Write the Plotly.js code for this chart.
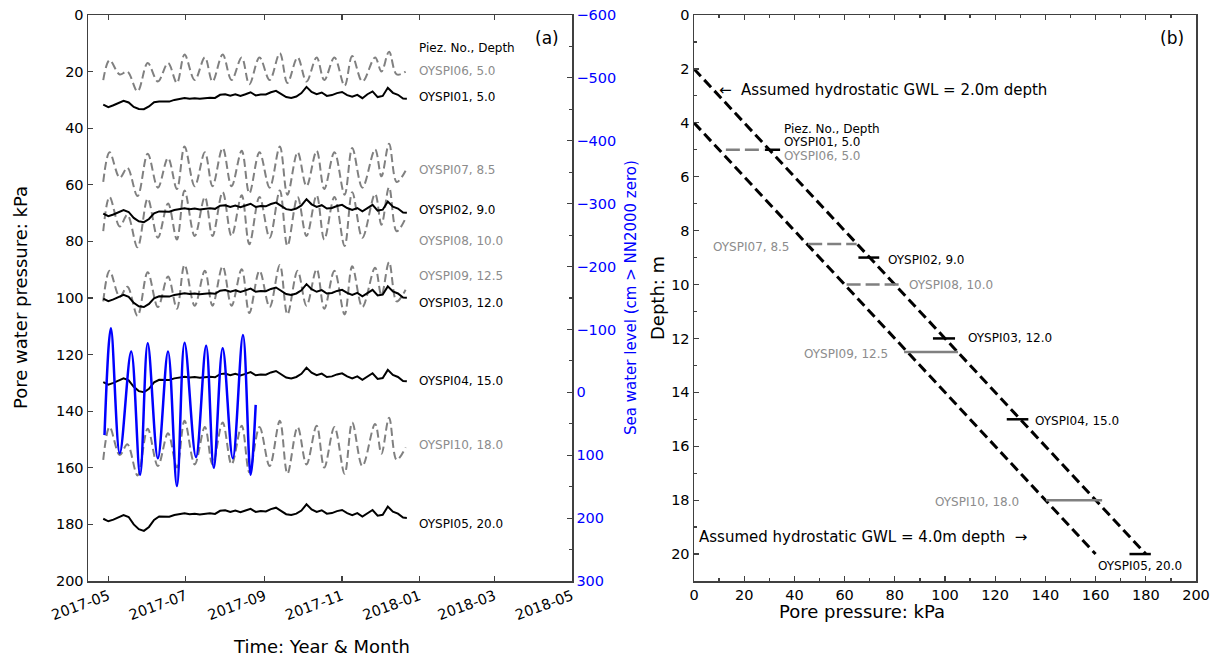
<!DOCTYPE html>
<html>
<head>
<meta charset="utf-8">
<script src="https://cdn.plot.ly/plotly-3.0.1.min.js"></script>
<style>body{margin:0;padding:0;background:#fff}#chart{width:1220px;height:660px}</style>
</head>
<body>
<div id="chart"></div>
<script>
// ---------- Panel (a): time series ----------
// dates of the turning points of the tidal-response (gray dashed) piezometers
const grayDates = ['2017-04-27','2017-05-02','2017-05-10','2017-05-16','2017-05-24','2017-06-01','2017-06-09','2017-06-17','2017-06-24','2017-06-30','2017-07-08','2017-07-16','2017-07-22','2017-07-30','2017-08-06','2017-08-14','2017-08-20','2017-08-28','2017-09-05','2017-09-13','2017-09-19','2017-09-27','2017-10-04','2017-10-12','2017-10-18','2017-10-26','2017-11-03','2017-11-09','2017-11-17','2017-11-27','2017-12-02','2017-12-08','2017-12-14','2017-12-21'];
const p06 = [23,16,21,20,27,17,23.5,17,24,14,23,15,23.5,14,23,15,24.5,15,23,13.5,24,15,23.5,15,23,15,25,14.5,23.5,15,20,13,21,20];
const p07 = [59,48.5,57.5,54,64,49,61,50.5,61.5,46.5,60.5,48.5,60.5,47,60.5,48,63,48.5,61,46.5,63.5,48.5,60.5,48,61.5,48.5,63.5,47,61,47.5,57,45.5,59,55];
const p08 = [76.4,64.3,74.7,70.6,82.1,64.9,78.7,66.6,79.3,62,78.1,64.3,78.1,62.6,78.1,63.7,81,64.3,78.7,62,81.6,64.3,78.1,63.7,79.3,64.3,81.6,62.6,78.7,63.2,74.1,60.9,76.4,71.8];
const p09 = [101.2,90.4,99.6,96,106.3,90.9,103.2,92.4,103.8,88.3,102.7,90.4,102.7,88.8,102.7,89.8,105.3,90.4,103.2,88.3,105.8,90.4,102.7,89.8,103.8,90.4,105.8,88.8,103.2,89.3,99.1,87.3,101.2,97.1];
const p10 = [157.2,145.6,155.5,151.7,162.7,146.2,159.4,147.8,159.9,143.4,158.8,145.6,158.8,144,158.8,145.1,161.6,145.6,159.4,143.4,162.1,145.6,158.8,145.1,159.9,145.6,162.1,144,159.4,144.5,155,142.3,157.2,152.8];

// black (non-tidal) piezometers, sampled every 4 days
const blackDates = ['2017-04-27','2017-05-01','2017-05-05','2017-05-09','2017-05-13','2017-05-17','2017-05-21','2017-05-25','2017-05-29','2017-06-02','2017-06-06','2017-06-10','2017-06-14','2017-06-18','2017-06-22','2017-06-26','2017-06-30','2017-07-04','2017-07-08','2017-07-12','2017-07-16','2017-07-20','2017-07-24','2017-07-28','2017-08-01','2017-08-05','2017-08-09','2017-08-13','2017-08-17','2017-08-21','2017-08-25','2017-08-29','2017-09-02','2017-09-06','2017-09-10','2017-09-14','2017-09-18','2017-09-22','2017-09-26','2017-09-30','2017-10-04','2017-10-08','2017-10-12','2017-10-16','2017-10-20','2017-10-24','2017-10-28','2017-11-01','2017-11-05','2017-11-09','2017-11-13','2017-11-17','2017-11-21','2017-11-25','2017-11-29','2017-12-03','2017-12-07','2017-12-11','2017-12-15','2017-12-19','2017-12-22'];
const p01 = [31.7,32.6,31.9,31.0,30.3,30.9,32.5,33.2,33.3,32.3,30.8,30.6,30.5,30.6,30.0,29.6,29.3,29.6,29.4,29.6,29.3,29.2,29.3,28.2,28.0,28.5,28.0,28.6,28.0,27.3,28.4,28.1,28.1,27.3,26.8,27.8,29.0,29.3,28.8,27.6,25.4,27.2,28.0,27.4,28.6,28.3,27.6,27.2,28.3,28.9,28.2,29.4,28.0,27.0,29.0,28.6,25.7,27.5,28.2,29.5,29.6];
const p02 = [70.2,71.1,70.5,69.6,68.9,69.6,71.7,72.9,73.2,72.1,70.1,69.4,69.4,69.5,68.9,68.6,68.3,68.6,68.4,68.7,68.4,68.3,68.5,67.4,67.2,67.8,67.3,67.9,67.3,66.7,67.8,67.5,67.6,66.8,66.3,67.4,68.6,68.9,68.4,67.3,65.1,66.9,67.8,67.2,68.4,68.2,67.5,67.1,68.2,68.9,68.2,69.4,68.1,67.1,69.1,68.8,65.9,67.7,68.4,69.8,69.9];
const p03 = [100.2,101.1,100.5,99.6,98.9,99.6,101.7,102.9,103.2,102.1,100.1,99.4,99.4,99.5,98.9,98.6,98.3,98.6,98.4,98.7,98.4,98.3,98.5,97.4,97.2,97.8,97.3,97.9,97.3,96.7,97.8,97.5,97.6,96.8,96.3,97.4,98.6,98.9,98.4,97.3,95.1,96.9,97.8,97.2,98.4,98.2,97.5,97.1,98.2,98.9,98.2,99.4,98.1,97.1,99.1,98.8,95.9,97.7,98.4,99.8,99.9];
const p04 = [129.7,130.6,130.0,129.1,128.4,129.1,131.4,132.9,133.3,132.1,129.8,128.9,128.9,129.0,128.4,128.1,127.8,128.1,127.9,128.2,127.9,127.8,128.0,126.9,126.7,127.3,126.8,127.4,126.8,126.2,127.3,127.0,127.1,126.3,125.8,126.9,128.1,128.4,127.9,126.8,124.6,126.4,127.3,126.7,127.9,127.7,127.0,126.6,127.7,128.4,127.7,128.9,127.6,126.6,128.6,128.3,125.4,127.2,127.9,129.3,129.4];
const p05 = [178.0,178.9,178.3,177.4,176.7,177.4,180.0,181.7,182.3,180.9,178.4,177.2,177.2,177.3,176.7,176.4,176.1,176.4,176.2,176.5,176.2,176.1,176.3,175.2,175.0,175.6,175.1,175.7,175.1,174.5,175.6,175.3,175.4,174.6,174.1,175.2,176.4,176.7,176.2,175.1,172.9,174.7,175.6,175.0,176.2,176.0,175.3,174.9,176.0,176.7,176.0,177.2,175.9,174.9,176.9,176.6,173.7,175.5,176.2,177.6,177.7];

// sea water level (cm > NN2000 zero), turning points
const seaDates = ['2017-04-28','2017-05-03','2017-05-10','2017-05-19','2017-05-26','2017-06-01','2017-06-09','2017-06-17','2017-06-24','2017-06-30','2017-07-09','2017-07-17','2017-07-23','2017-07-30','2017-08-07','2017-08-15','2017-08-21','2017-08-25'];
const seaLevel = [68,-102,97,-65,131,-78,105,-65,149,-79,103,-74,120,-70,105,-91,131,20];

// labels of panel (a)
const labelDate = '2017-12-30';
const labelTextsA = ['Piez. No., Depth','OYSPI06, 5.0','OYSPI01, 5.0','OYSPI07, 8.5','OYSPI02, 9.0','OYSPI08, 10.0','OYSPI09, 12.5','OYSPI03, 12.0','OYSPI04, 15.0','OYSPI10, 18.0','OYSPI05, 20.0'];
const labelPressA = [11.7,19.8,29.0,54.8,68.9,79.9,92.2,101.8,129.3,151.9,179.9];
const labelGrayA  = [false,true,false,true,false,true,true,false,false,true,false];

// ---------- Panel (b): pressure ranges vs depth ----------
const piezNames = ['OYSPI06','OYSPI07','OYSPI08','OYSPI09','OYSPI10','OYSPI01','OYSPI02','OYSPI03','OYSPI04','OYSPI05'];
const piezDepth = [5.0,8.5,10.0,12.5,18.0,5.0,9.0,12.0,15.0,20.0];
const piezMin   = [12.7,45.5,60.8,83.7,140.2,28.3,65.5,95.2,124.6,173.5];
const piezMax   = [28.0,64.8,82.7,105.2,162.6,34.3,73.8,104.0,133.2,182.0];
const piezGray  = [true,true,true,true,true,false,false,false,false,false];
const piezDashed= [true,true,true,false,false,false,false,false,false,false];

const gwlDepth2 = [2,20], gwlPress2 = [0,180];
const gwlDepth4 = [4,20], gwlPress4 = [0,160];

const labelTextsB = ['Piez. No., Depth','OYSPI01, 5.0','OYSPI06, 5.0','OYSPI07, 8.5','OYSPI02, 9.0','OYSPI08, 10.0','OYSPI03, 12.0','OYSPI09, 12.5','OYSPI04, 15.0','OYSPI10, 18.0','OYSPI05, 20.0'];
const labelPressB = [35.1,35.1,35.1,39.0,76.5,84.9,108.4,78.1,135.1,130.3,160.2];
const labelDepthB = [4.24,4.72,5.24,8.62,9.1,10.0,12.0,12.56,15.06,18.07,20.45];
const labelGrayB  = [false,false,true,true,false,true,false,true,false,true,false];
const labelRightB = [false,false,false,true,false,false,false,true,false,true,false];

// ---------- build ----------
const GRAY = '#808080', GRAYTXT = '#8c8c8c', FONT = 'DejaVu Sans';
const traces = [];
[p06,p07,p08,p09,p10].forEach(v => traces.push({
  x: grayDates, y: v, type:'scatter', mode:'lines', xaxis:'x', yaxis:'y',
  line:{color:GRAY, width:2, dash:'8px,4px', shape:'spline', smoothing:1}, hoverinfo:'skip'
}));
[p01,p02,p03,p04,p05].forEach(v => traces.push({
  x: blackDates, y: v, type:'scatter', mode:'lines', xaxis:'x', yaxis:'y',
  line:{color:'black', width:2}, hoverinfo:'skip'
}));
traces.push({x: seaDates, y: seaLevel, type:'scatter', mode:'lines', xaxis:'x', yaxis:'y2',
  line:{color:'#0000ff', width:2.5, shape:'spline', smoothing:1}, hoverinfo:'skip'});

traces.push({x: gwlPress2, y: gwlDepth2, type:'scatter', mode:'lines', xaxis:'x2', yaxis:'y3',
  line:{color:'black', width:3, dash:'10px,5px'}, hoverinfo:'skip'});
traces.push({x: gwlPress4, y: gwlDepth4, type:'scatter', mode:'lines', xaxis:'x2', yaxis:'y3',
  line:{color:'black', width:3, dash:'10px,5px'}, hoverinfo:'skip'});
piezNames.forEach((n,i) => traces.push({
  x: [piezMin[i], piezMax[i]], y: [piezDepth[i], piezDepth[i]], name: n,
  type:'scatter', mode:'lines', xaxis:'x2', yaxis:'y3',
  line:{color: piezGray[i] ? GRAY : 'black', width: 2.5, dash: piezDashed[i] ? '14px,5px' : 'solid'}, hoverinfo:'skip'
}));

const annotations = [];
labelTextsA.forEach((t,i) => annotations.push({
  x: labelDate, y: labelPressA[i], xref:'x', yref:'y', text: t, showarrow:false,
  xanchor:'left', yanchor:'middle', font:{family:FONT, size:12, color: labelGrayA[i] ? GRAYTXT : 'black'}
}));
labelTextsB.forEach((t,i) => annotations.push({
  x: labelPressB[i], y: labelDepthB[i], xref:'x2', yref:'y3', text: t, showarrow:false,
  xanchor: labelRightB[i] ? 'right' : 'left', yanchor:'middle',
  font:{family:FONT, size:12, color: labelGrayB[i] ? GRAYTXT : 'black'}
}));
annotations.push({x: 9.2, y: 2.79, xref:'x2', yref:'y3', text:'←  Assumed hydrostatic GWL = 2.0m depth', showarrow:false, xanchor:'left', yanchor:'middle', font:{family:FONT, size:15, color:'black'}});
annotations.push({x: 1.2, y: 19.37, xref:'x2', yref:'y3', text:'Assumed hydrostatic GWL = 4.0m depth  →', showarrow:false, xanchor:'left', yanchor:'middle', font:{family:FONT, size:15, color:'black'}});

const W = 1220, H = 660;
const pa = (px) => px / W, pb = (py) => (H - py) / H;
const titles = [
  {text:'Pore water pressure: kPa', x:pa(20), y:pb(298), angle:-90, size:18, color:'black'},
  {text:'Sea water level (cm &gt; NN2000 zero)', x:pa(631), y:pb(298), angle:-90, size:15, color:'#0000ff'},
  {text:'Depth: m', x:pa(657), y:pb(298), angle:-90, size:18, color:'black'},
  {text:'Time: Year &amp; Month', x:pa(321), y:pb(646), angle:0, size:18, color:'black'},
  {text:'Pore pressure: kPa', x:pa(862), y:pb(611), angle:0, size:18, color:'black'},
  {text:'(a)', x:pa(547), y:pb(38), angle:0, size:17, color:'black'},
  {text:'(b)', x:pa(1172), y:pb(38), angle:0, size:17, color:'black'}
];
titles.forEach(t => annotations.push({
  x:t.x, y:t.y, xref:'paper', yref:'paper', text:t.text, textangle:t.angle, showarrow:false,
  xanchor:'center', yanchor:'middle', font:{family:FONT, size:t.size, color:t.color}
}));

const LC = '#404040';
const common = {showline:true, linecolor:LC, linewidth:1.5, ticks:'inside', ticklen:5, tickwidth:1.2, tickcolor:LC,
  showgrid:false, zeroline:false, tickfont:{family:FONT, size:14.5, color:'black'}};
const dom = [pb(581), pb(15)];

const layout = {
  width: W, height: H, margin:{l:0, r:0, t:0, b:0}, showlegend:false,
  paper_bgcolor:'white', plot_bgcolor:'white', font:{family:FONT, size:14.5, color:'black'},
  xaxis: Object.assign({}, common, {domain:[pa(88), pa(572)], anchor:'y', type:'date',
    range:['2017-04-15','2018-05-01'], tick0:'2017-05-01', dtick:'M2', tickformat:'%Y-%m', tickangle:-20, mirror:'ticks'}),
  yaxis: Object.assign({}, common, {domain:dom, anchor:'x', range:[200,0], dtick:20, tick0:0}),
  yaxis2: Object.assign({}, common, {overlaying:'y', anchor:'x', side:'right', range:[300,-600], dtick:100, tick0:0,
    tickfont:{family:FONT, size:14.5, color:'#0000ff'},
    minor:{dtick:50, ticks:'inside', ticklen:3, tickcolor:LC}}),
  xaxis2: Object.assign({}, common, {domain:[pa(694), pa(1196)], anchor:'y3', range:[0,200], dtick:20, tick0:0, mirror:'ticks',
    minor:{dtick:10, ticks:'inside', ticklen:3, tickcolor:LC}}),
  yaxis3: Object.assign({}, common, {domain:dom, anchor:'x2', range:[21,0], dtick:2, tick0:0, mirror:true,
    minor:{dtick:1, ticks:'inside', ticklen:3, tickcolor:LC}}),
  annotations: annotations
};

Plotly.newPlot('chart', traces, layout, {staticPlot:true, displayModeBar:false});
</script>
</body>
</html>
